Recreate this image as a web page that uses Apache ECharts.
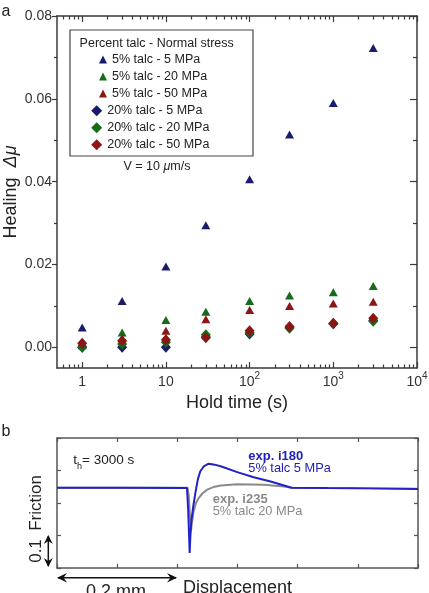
<!DOCTYPE html>
<html><head><meta charset="utf-8">
<script src="https://cdn.jsdelivr.net/npm/echarts@6/dist/echarts.min.js"></script>
<style>html,body{margin:0;padding:0;background:#fff}#c{width:429px;height:593px}</style>
</head><body><div id="c"></div>
<script>
// ---------- Panel a data ----------
const holdTimes = [1, 3, 10, 30, 100, 300, 1000, 3000];
const talc5_5MPa  = [0.0048, 0.0112, 0.0195, 0.0295, 0.0406, 0.0514, 0.0590, 0.0723];
const talc5_20MPa = [0.0005, 0.0036, 0.0066, 0.0086, 0.0112, 0.0125, 0.0133, 0.0148];
const talc5_50MPa = [0.0012, 0.0022, 0.0040, 0.0068, 0.0090, 0.0100, 0.0106, 0.0110];
const talc20_5MPa  = [0.0000, 0.0000, 0.0000, 0.0025, 0.0032, 0.0048, 0.0057, 0.0065];
const talc20_20MPa = [0.0000, 0.0008, 0.0012, 0.0030, 0.0035, 0.0046, 0.0057, 0.0063];
const talc20_50MPa = [0.0010, 0.0016, 0.0018, 0.0023, 0.0040, 0.0050, 0.0058, 0.0070];
const seriesNames = ['5% talc - 5 MPa', '5% talc - 20 MPa', '5% talc - 50 MPa',
                     '20% talc - 5 MPa', '20% talc - 20 MPa', '20% talc - 50 MPa'];
const xMajorTicks = [1, 10, 100, 1000, 10000];
const xMinorTicks = [0.6, 0.7, 0.8, 0.9, 2, 3, 4, 5, 6, 7, 8, 9, 20, 30, 40, 50, 60, 70, 80, 90,
                     200, 300, 400, 500, 600, 700, 800, 900, 2000, 3000, 4000, 5000, 6000, 7000, 8000, 9000];
const yMajorTicks = [0, 0.02, 0.04, 0.06, 0.08];
const yMinorTicks = [0.01, 0.03, 0.05, 0.07];

// ---------- Panel b data ----------
const i180Disp = [0, 0.100, 0.2160, 0.2180, 0.2195, 0.2205, 0.2215, 0.2230, 0.2265, 0.2300, 0.2340, 0.2380, 0.2440, 0.2520, 0.2620, 0.2720, 0.2995, 0.3270, 0.3550, 0.3830, 0.3900, 0.4500, 0.5200, 0.6000];
const i180Fric = [0.647, 0.647, 0.646, 0.580, 0.500, 0.446, 0.490, 0.540, 0.590, 0.631, 0.672, 0.697, 0.713, 0.721, 0.718, 0.713, 0.695, 0.679, 0.666, 0.651, 0.647, 0.646, 0.645, 0.643];
const i235Disp = [0, 0.100, 0.2170, 0.2190, 0.2210, 0.2225, 0.2240, 0.2270, 0.2310, 0.2355, 0.2420, 0.2495, 0.2600, 0.2720, 0.2995, 0.3440, 0.3770, 0.3900, 0.4500, 0.5200, 0.6000];
const i235Fric = [0.647, 0.647, 0.647, 0.620, 0.560, 0.513, 0.535, 0.574, 0.600, 0.615, 0.630, 0.641, 0.649, 0.654, 0.658, 0.656, 0.651, 0.647, 0.646, 0.645, 0.644];

const NAVY = '#1b1b6e', GREEN = '#176a17', DRED = '#8a1616';
const seriesColors = [NAVY, GREEN, DRED, NAVY, GREEN, DRED];
const seriesValues = [talc5_5MPa, talc5_20MPa, talc5_50MPa, talc20_5MPa, talc20_20MPa, talc20_50MPa];
const AX = '#3a3a3a';
const FONT = '"Liberation Sans", Arial, sans-serif';

function pairs(xs, ys) { return xs.map((x, i) => [x, ys[i]]); }

const chart = echarts.init(document.getElementById('c'), null, {renderer: 'canvas'});

const majorTickStyle = {color: AX, width: 1.2};
function logX(extra) {
  return Object.assign({gridIndex: 0, type: 'log', min: 0.5, max: 10000, splitLine: {show: false},
    axisLine: {show: true, onZero: false, lineStyle: {color: AX, width: 1.5}}, axisLabel: {show: false}}, extra);
}
function linY(extra) {
  return Object.assign({gridIndex: 0, type: 'value', min: -0.005, max: 0.08, splitLine: {show: false},
    axisLine: {show: true, onZero: false, lineStyle: {color: AX, width: 1.5}}, axisLabel: {show: false}}, extra);
}

const scatterSeries = seriesNames.map((name, k) => ({
  name: name, type: 'scatter', xAxisIndex: 0, yAxisIndex: 0,
  symbol: k < 3 ? 'triangle' : 'diamond',
  symbolSize: k < 3 ? [9, 8] : [10, 11],
  itemStyle: {color: seriesColors[k], opacity: 1},
  data: pairs(holdTimes, seriesValues[k])
}));

const bAxisLine = {onZero: false, lineStyle: {color: '#555', width: 1.5}};
const bTick = {inside: true, length: 4, lineStyle: {color: '#555', width: 1.2}};

const option = {
  animation: false,
  textStyle: {fontFamily: FONT},
  grid: [
    {left: 57, top: 16, width: 360, height: 352, outerBoundsMode: 'none', containLabel: false},
    {left: 57, top: 438, width: 361, height: 130, outerBoundsMode: 'none', containLabel: false}
  ],
  xAxis: [
    logX({position: 'bottom',
      axisTick: {inside: true, length: 6, customValues: xMajorTicks, lineStyle: majorTickStyle},
      axisLabel: {show: true, customValues: xMajorTicks, margin: 3,
        formatter: function (v) {
          const e = Math.round(Math.log10(v));
          if (e === 0) return '{b|1}';
          if (e === 1) return '{b|10}';
          return '{b|10}{s|' + e + '}';
        },
        rich: {b: {fontSize: 14, color: '#333', lineHeight: 22},
               s: {fontSize: 10, color: '#333', verticalAlign: 'top', lineHeight: 12}}},
      name: 'Hold time (s)', nameLocation: 'middle', nameGap: 23,
      nameTextStyle: {fontSize: 18, color: '#222'}}),
    logX({position: 'top',
      axisTick: {inside: true, length: 6, customValues: xMajorTicks, lineStyle: majorTickStyle}}),
    logX({position: 'bottom', axisLine: {show: false, onZero: false},
      axisTick: {inside: true, length: 3.5, customValues: xMinorTicks, lineStyle: majorTickStyle}}),
    logX({position: 'top', axisLine: {show: false, onZero: false},
      axisTick: {inside: true, length: 3.5, customValues: xMinorTicks, lineStyle: majorTickStyle}}),
    {gridIndex: 1, type: 'value', min: 0, max: 0.6, interval: 0.1, position: 'bottom',
      axisLine: bAxisLine, axisTick: bTick,
      axisLabel: {show: false}, splitLine: {show: false},
      name: 'Displacement', nameLocation: 'middle', nameGap: 11,
      nameTextStyle: {fontSize: 18, color: '#222'}},
    {gridIndex: 1, type: 'value', min: 0, max: 0.6, interval: 0.1, position: 'top',
      axisLine: bAxisLine, axisTick: bTick,
      axisLabel: {show: false}, splitLine: {show: false}}
  ],
  yAxis: [
    linY({position: 'left',
      axisTick: {inside: false, length: 5, customValues: yMajorTicks, lineStyle: majorTickStyle},
      axisLabel: {show: true, customValues: yMajorTicks, margin: 5, fontSize: 14, color: '#333',
        formatter: function (v) { return v.toFixed(2); }},
      name: 'Healing  {m|Δμ}', nameLocation: 'middle', nameGap: 37, nameRotate: 90,
      nameMoveOverlap: false,
      nameTextStyle: {fontSize: 18, color: '#222',
        rich: {m: {fontSize: 18, fontStyle: 'italic', color: '#222'}}}}),
    linY({position: 'right',
      axisTick: {inside: true, length: 7, customValues: yMajorTicks, lineStyle: majorTickStyle}}),
    linY({position: 'left', axisLine: {show: false, onZero: false},
      axisTick: {inside: false, length: 3, customValues: yMinorTicks, lineStyle: majorTickStyle}}),
    linY({position: 'right', axisLine: {show: false, onZero: false},
      axisTick: {inside: true, length: 4, customValues: yMinorTicks, lineStyle: majorTickStyle}}),
    {gridIndex: 1, type: 'value', min: 0.4, max: 0.8, interval: 0.1, position: 'left',
      axisLine: bAxisLine, axisTick: bTick,
      axisLabel: {show: false}, splitLine: {show: false},
      name: 'Friction', nameLocation: 'middle', nameGap: 12, nameRotate: 90,
      nameTextStyle: {fontSize: 17, color: '#222'}},
    {gridIndex: 1, type: 'value', min: 0.4, max: 0.8, interval: 0.1, position: 'right',
      axisLine: bAxisLine, axisTick: bTick,
      axisLabel: {show: false}, splitLine: {show: false}}
  ],
  legend: [
    {data: seriesNames.slice(0, 3), orient: 'vertical', left: 99, top: 52.5, padding: 0,
      itemWidth: 8, itemHeight: 8, itemGap: 3, selectedMode: false,
      textStyle: {fontSize: 12.5, color: '#222', lineHeight: 14, fontFamily: FONT}},
    {data: seriesNames.slice(3), orient: 'vertical', left: 91.2, top: 103.8, padding: 0,
      itemWidth: 11, itemHeight: 11, itemGap: 3, selectedMode: false,
      textStyle: {fontSize: 12.5, color: '#222', lineHeight: 14, fontFamily: FONT}}
  ],
  graphic: [
    {type: 'text', x: 6, y: 12, style: {text: 'a', fontSize: 16, fill: '#222', align: 'center', verticalAlign: 'middle', fontFamily: FONT}},
    {type: 'text', x: 6, y: 432, style: {text: 'b', fontSize: 16, fill: '#222', align: 'center', verticalAlign: 'middle', fontFamily: FONT}},
    {type: 'rect', shape: {x: 70, y: 30, width: 183, height: 126}, style: {fill: '#fff', stroke: '#444', lineWidth: 1.2}, z: 1},
    {type: 'text', x: 156.7, y: 43.7, z: 2, style: {text: 'Percent talc - Normal stress', fontSize: 12.5, fill: '#222', align: 'center', verticalAlign: 'middle', fontFamily: FONT}},
    {type: 'text', x: 157, y: 166.7, z: 2, style: {text: 'V = 10 {m|μ}m/s', fontSize: 12.5, fill: '#222', align: 'center', verticalAlign: 'middle', fontFamily: FONT,
      rich: {m: {fontSize: 12.5, fontStyle: 'italic', fill: '#222', fontFamily: FONT}}}},
    {type: 'text', x: 73.3, y: 460, z: 5, style: {text: 't{s|h}= 3000 s', fontSize: 13.5, fill: '#222', verticalAlign: 'middle', fontFamily: FONT,
      rich: {s: {fontSize: 9, verticalAlign: 'bottom', lineHeight: 22, fill: '#222', fontFamily: FONT}}}},
    {type: 'text', x: 248.3, y: 456, z: 5, style: {text: 'exp. i180', fontSize: 13, fontWeight: 'bold', fill: '#2222b8', verticalAlign: 'middle', fontFamily: FONT}},
    {type: 'text', x: 248.3, y: 468.7, z: 5, style: {text: '5% talc 5 MPa', fontSize: 12.8, fill: '#2222b8', verticalAlign: 'middle', fontFamily: FONT}},
    {type: 'text', x: 212.7, y: 499.3, z: 5, style: {text: 'exp. i235', fontSize: 13, fontWeight: 'bold', fill: '#8a8a8a', verticalAlign: 'middle', fontFamily: FONT}},
    {type: 'text', x: 212.7, y: 511.7, z: 5, style: {text: '5% talc 20 MPa', fontSize: 12.8, fill: '#8a8a8a', verticalAlign: 'middle', fontFamily: FONT}},
    {type: 'text', x: 36.5, y: 551, rotation: Math.PI / 2, style: {text: '0.1', fontSize: 17, fill: '#222', align: 'center', verticalAlign: 'middle', fontFamily: FONT}},
    {type: 'line', shape: {x1: 48.3, y1: 536, x2: 48.3, y2: 566}, style: {stroke: '#111', lineWidth: 1.5}},
    {type: 'polygon', shape: {points: [[48.3, 535], [43.8, 544], [48.3, 541], [52.8, 544]]}, style: {fill: '#111'}},
    {type: 'polygon', shape: {points: [[48.3, 567], [43.8, 558], [48.3, 561], [52.8, 558]]}, style: {fill: '#111'}},
    {type: 'line', shape: {x1: 58, y1: 577.7, x2: 176, y2: 577.7}, style: {stroke: '#111', lineWidth: 1.5}},
    {type: 'polygon', shape: {points: [[57, 577.7], [67, 573], [63.5, 577.7], [67, 582.4]]}, style: {fill: '#111'}},
    {type: 'polygon', shape: {points: [[177, 577.7], [167, 573], [170.5, 577.7], [167, 582.4]]}, style: {fill: '#111'}},
    {type: 'text', x: 116, y: 592, style: {text: '0.2 mm', fontSize: 18, fill: '#222', align: 'center', verticalAlign: 'middle', fontFamily: FONT}}
  ],
  series: scatterSeries.concat([
    {name: 'exp. i235', type: 'line', xAxisIndex: 4, yAxisIndex: 4, showSymbol: false, symbol: 'none',
      lineStyle: {color: '#8a8a8a', width: 2}, data: pairs(i235Disp, i235Fric), z: 3},
    {name: 'exp. i180', type: 'line', xAxisIndex: 4, yAxisIndex: 4, showSymbol: false, symbol: 'none',
      lineStyle: {color: '#2222c8', width: 2}, data: pairs(i180Disp, i180Fric), z: 4}
  ])
};
chart.setOption(option);
</script></body></html>
